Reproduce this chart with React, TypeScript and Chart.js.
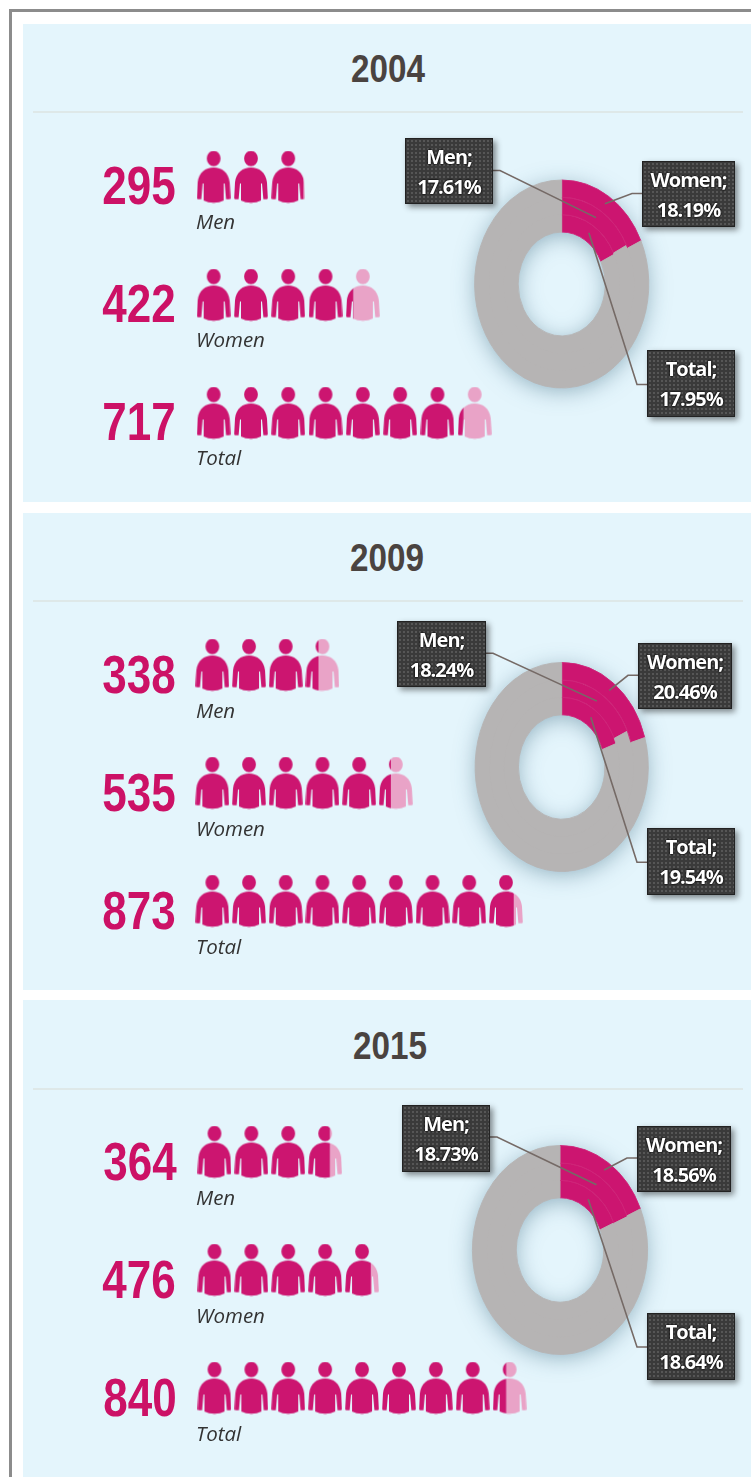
import React, { useEffect, useRef } from 'react';
import { Chart, registerables } from 'chart.js';

Chart.register(...registerables);

const years = ['2004', '2009', '2015'];
const groups = ['Men', 'Women', 'Total'];
const counts2004 = [295, 422, 717];
const counts2009 = [338, 535, 873];
const counts2015 = [364, 476, 840];
const allCounts = [counts2004, counts2009, counts2015];
const shares2004 = [17.61, 18.19, 17.95];
const shares2009 = [18.24, 20.46, 19.54];
const shares2015 = [18.73, 18.56, 18.64];
const allShares = [shares2004, shares2009, shares2015];
const ringOrder = ['Women', 'Men', 'Total'];
const peoplePerIcon = 100;

const PINK = '#CC1570';
const LIGHT = '#E9A3C7';
const GRAY = '#B6B4B4';
const PANEL = '#E4F5FC';

const layouts = [
  {
    top: 24, height: 478, titleX: 388, titleY: 69, rule: 111,
    iconX: 214, step: 37.3, rowY: 177, numDy: 8, numX: [138.5, 138.5, 138.5], labelDy: 44,
    cx: 561.7, cy: 283.5, rx: 87.5, ry: 104.5,
    boxes: { Men: [405, 138, 88, 66], Women: [642, 161, 93, 66], Total: [647, 350, 88, 67] },
  },
  {
    top: 513, height: 477, titleX: 387, titleY: 558, rule: 600,
    iconX: 212.7, step: 36.7, rowY: 665, numDy: 9, numX: [139, 139, 139], labelDy: 45,
    cx: 561.7, cy: 766.7, rx: 87, ry: 105,
    boxes: { Men: [397, 621, 89, 66], Women: [638, 643, 94, 66], Total: [647, 828, 88, 67] },
  },
  {
    top: 1000, height: 477, titleX: 390, titleY: 1046, rule: 1088,
    iconX: 214, step: 36.9, rowY: 1152, numDy: 9, numX: [140, 139, 139.5], labelDy: 45,
    cx: 560, cy: 1250, rx: 88, ry: 105,
    boxes: { Men: [402, 1105, 88, 67], Women: [637, 1126, 94, 66], Total: [647, 1313, 88, 67] },
  },
];

const ROW_GAP = 118;
const DONUT_LEFT = 380;
const DONUT_W = 371;
const DONUT_H = 300;

function personPath(c: CanvasRenderingContext2D) {
  c.beginPath();
  c.ellipse(17, 8, 6.9, 7.8, 0, 0, Math.PI * 2);
  c.closePath();
  c.moveTo(0.2, 47.5);
  c.lineTo(1, 32);
  c.bezierCurveTo(2, 22, 9, 17, 17, 17);
  c.bezierCurveTo(25, 17, 32, 22, 33, 32);
  c.lineTo(33.8, 47.5);
  c.quadraticCurveTo(33.8, 48.8, 32.5, 48.8);
  c.lineTo(29.4, 48.8);
  c.lineTo(28, 33);
  c.lineTo(27, 33);
  c.lineTo(27, 50);
  c.quadraticCurveTo(23, 52.2, 17, 52.2);
  c.quadraticCurveTo(11, 52.2, 7, 50);
  c.lineTo(7, 33);
  c.lineTo(6, 33);
  c.lineTo(4.6, 48.8);
  c.lineTo(1.5, 48.8);
  c.quadraticCurveTo(0.2, 48.8, 0.2, 47.5);
  c.closePath();
}

function makeIcon(fraction: number) {
  const cv = document.createElement('canvas');
  cv.width = 34;
  cv.height = 53;
  const c = cv.getContext('2d')!;
  c.save();
  c.beginPath();
  c.rect(34 * fraction, 0, 34, 53);
  c.clip();
  personPath(c);
  c.fillStyle = LIGHT;
  c.fill();
  c.restore();
  c.save();
  c.beginPath();
  c.rect(0, 0, 34 * fraction, 53);
  c.clip();
  personPath(c);
  c.fillStyle = PINK;
  c.fill();
  c.restore();
  return cv;
}

function buildIconChart(canvas: HTMLCanvasElement, counts: number[]) {
  const datasets = counts.map((count, row) => {
    const n = Math.ceil(count / peoplePerIcon);
    const data = [];
    const styles = [];
    for (let i = 0; i < n; i++) {
      data.push({ x: i + 0.5, y: row + 0.5 });
      styles.push(makeIcon(Math.min(1, count / peoplePerIcon - i)));
    }
    return {
      label: groups[row],
      data,
      pointStyle: styles,
      pointRadius: 17,
      showLine: false,
      clip: false,
    };
  });
  return new Chart(canvas, {
    type: 'scatter',
    data: { datasets },
    options: {
      responsive: false,
      animation: false,
      events: [],
      layout: { padding: 0, autoPadding: false },
      plugins: { legend: { display: false }, tooltip: { enabled: false } },
      scales: {
        x: { type: 'linear', display: false, min: 0, max: 10 },
        y: { type: 'linear', display: false, min: 0, max: 3, reverse: true },
      },
    },
  } as any);
}

function buildDonut(canvas: HTMLCanvasElement, shares: number[], lay: any) {
  const sx = lay.rx / lay.ry;
  const boxes = lay.boxes;
  const top = lay.cy - DONUT_H / 2;
  const cxLocal = lay.cx - DONUT_LEFT;
  const cyLocal = lay.cy - top;

  const ellipsePlugin = {
    id: 'ellipseAndLeaders',
    beforeDatasetsDraw(chart: any) {
      const ctx = chart.ctx;
      const outer = chart.getDatasetMeta(0).data[0];
      const inner = chart.getDatasetMeta(ringOrder.length - 1).data[0];
      ctx.save();
      ctx.shadowColor = 'rgba(60,105,130,0.5)';
      ctx.shadowBlur = 22;
      ctx.shadowOffsetY = 4;
      ctx.fillStyle = GRAY;
      ctx.beginPath();
      ctx.ellipse(outer.x, outer.y, outer.outerRadius * sx - 1.5, outer.outerRadius - 1.5, 0, 0, Math.PI * 2);
      ctx.ellipse(outer.x, outer.y, inner.innerRadius * sx + 1.5, inner.innerRadius + 1.5, 0, 0, Math.PI * 2);
      ctx.fill('evenodd');
      ctx.restore();
      ctx.save();
      ctx.translate(outer.x, outer.y);
      ctx.scale(sx, 1);
      ctx.translate(-outer.x, -outer.y);
    },
    afterDatasetsDraw(chart: any) {
      const ctx = chart.ctx;
      ctx.restore();
      ctx.save();
      ctx.strokeStyle = '#756a66';
      ctx.lineWidth = 1.6;
      for (let d = 0; d < ringOrder.length; d++) {
        const name = ringOrder[d];
        const arc = chart.getDatasetMeta(d).data[0];
        const p = arc.getCenterPoint();
        const px = arc.x + (p.x - arc.x) * sx;
        const py = p.y;
        const b = boxes[name];
        const left = name === 'Men';
        const edgeX = (left ? b[0] + b[2] : b[0]) - DONUT_LEFT;
        const dy = name === 'Total' ? 34 : 32;
        const edgeY = b[1] + dy - top;
        const elbowX = edgeX + (left ? 7 : -10);
        ctx.beginPath();
        ctx.moveTo(edgeX, edgeY);
        ctx.lineTo(elbowX, edgeY);
        ctx.lineTo(px, py);
        ctx.stroke();
      }
      ctx.restore();
    },
  };

  return new Chart(canvas, {
    type: 'doughnut',
    data: {
      labels: ['Share', 'Rest'],
      datasets: ringOrder.map((name) => {
        const v = shares[groups.indexOf(name)];
        return {
          label: name,
          data: [v, 100 - v],
          backgroundColor: [PINK, GRAY],
          borderColor: ['#CF2479', GRAY],
          borderWidth: 1,
        };
      }),
    },
    options: {
      responsive: false,
      animation: false,
      events: [],
      cutout: '50%',
      rotation: 0,
      layout: {
        padding: {
          left: cxLocal - lay.ry,
          right: DONUT_W - cxLocal - lay.ry,
          top: cyLocal - lay.ry,
          bottom: DONUT_H - cyLocal - lay.ry,
        },
      },
      plugins: { legend: { display: false }, tooltip: { enabled: false } },
    },
    plugins: [ellipsePlugin],
  } as any);
}

function Panel({ index }: { index: number }) {
  const lay = layouts[index];
  const counts = allCounts[index];
  const shares = allShares[index];
  const iconRef = useRef<HTMLCanvasElement>(null);
  const donutRef = useRef<HTMLCanvasElement>(null);

  useEffect(() => {
    const a = buildIconChart(iconRef.current!, counts);
    const b = buildDonut(donutRef.current!, shares, lay);
    return () => {
      a.destroy();
      b.destroy();
    };
  }, []);

  const abs: React.CSSProperties = { position: 'absolute' };
  return (
    <>
      <div style={{ ...abs, left: 23, top: lay.top, width: 728, height: lay.height, background: PANEL }} />
      <div style={{ ...abs, left: 33, top: lay.rule, width: 710, height: 2, background: '#DEE8E8' }} />
      <div
        style={{
          ...abs, left: lay.titleX, top: lay.titleY, transform: 'translate(-50%,-50%) scaleX(0.875)',
          font: 'bold 38px/1 "Liberation Sans"', color: '#4A4340',
        }}
      >
        {years[index]}
      </div>
      <canvas
        ref={donutRef}
        width={DONUT_W}
        height={DONUT_H}
        style={{ ...abs, left: DONUT_LEFT, top: lay.cy - DONUT_H / 2, width: DONUT_W, height: DONUT_H }}
      />
      <canvas
        ref={iconRef}
        width={lay.step * 10}
        height={ROW_GAP * 3}
        style={{
          ...abs, left: lay.iconX - lay.step / 2, top: lay.rowY - ROW_GAP / 2,
          width: lay.step * 10, height: ROW_GAP * 3,
        }}
      />
      {groups.map((g, r) => (
        <React.Fragment key={g}>
          <div
            style={{
              ...abs, left: lay.numX[r], top: lay.rowY + ROW_GAP * r + lay.numDy,
              transform: 'translate(-50%,-50%) scaleX(0.83)',
              font: 'bold 53px/1 "Liberation Sans"', color: '#CC1166',
            }}
          >
            {counts[r]}
          </div>
          <div
            style={{
              ...abs, left: 196, top: lay.rowY + ROW_GAP * r + lay.labelDy, transform: 'translateY(-50%)',
              font: 'italic 20.5px/1 "Open Sans"', color: '#333',
            }}
          >
            {g}
          </div>
          <div
            style={{
              ...abs, boxSizing: 'border-box',
              left: (lay.boxes as any)[g][0], top: (lay.boxes as any)[g][1],
              width: (lay.boxes as any)[g][2], height: (lay.boxes as any)[g][3],
              background: '#3A3A3A',
              backgroundImage: 'radial-gradient(#565656 0.8px, transparent 1px)',
              backgroundSize: '4px 4px',
              border: '1px solid #222',
              boxShadow: '3px 3px 6px rgba(0,0,0,0.45)',
              color: '#fff',
              font: '700 20px/30px "Open Sans"',
              letterSpacing: '-1px',
              textAlign: 'center',
              paddingTop: 3,
              textShadow: '0 0 2px #000, 0 0 2px #000',
              whiteSpace: 'nowrap',
            }}
          >
            {g};<br />
            {shares[r].toFixed(2)}%
          </div>
        </React.Fragment>
      ))}
    </>
  );
}

export default function App() {
  return (
    <div
      style={{
        position: 'absolute', left: 0, top: 0, width: 751, height: 1477,
        overflow: 'hidden', background: '#fff', filter: 'blur(0.45px)',
      }}
    >
      <div style={{ position: 'absolute', left: 9, top: 9, width: 742, height: 3, background: '#8C8C8C' }} />
      <div style={{ position: 'absolute', left: 9, top: 9, width: 3, height: 1468, background: '#8C8C8C' }} />
      {years.map((y, i) => (
        <Panel key={y} index={i} />
      ))}
    </div>
  );
}
